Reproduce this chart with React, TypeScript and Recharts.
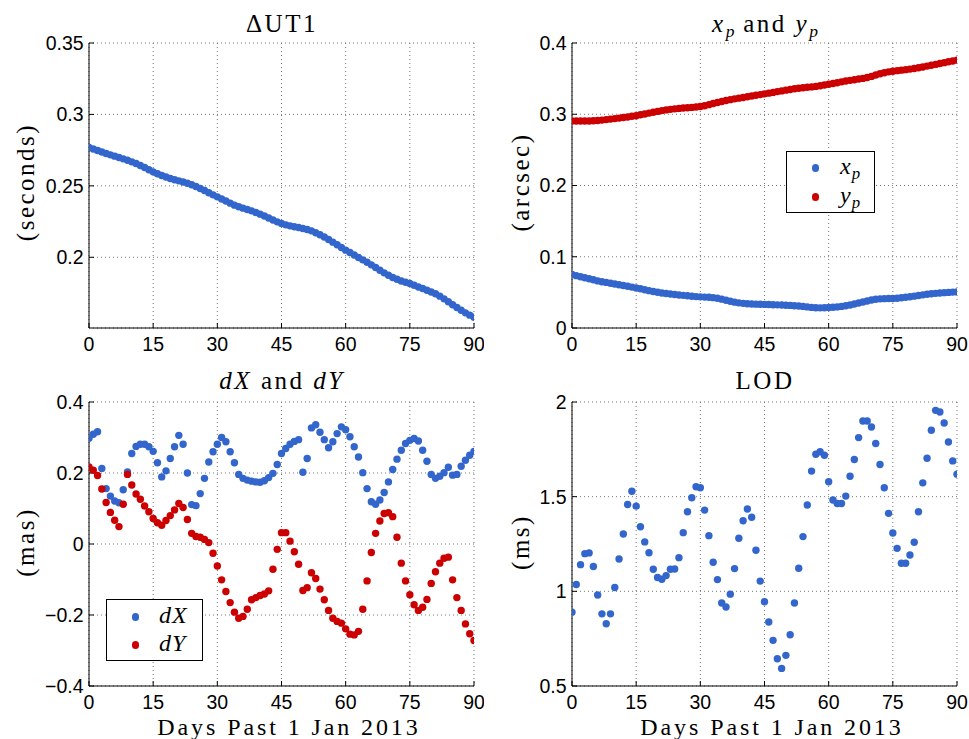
import React from 'react';
import { ScatterChart, Scatter, XAxis, YAxis, CartesianGrid } from 'recharts';

const BLUE = '#3366cc';
const RED = '#cc0000';
const SERIF = '"Liberation Serif", "Times New Roman", serif';
const SANS = '"Liberation Sans", Arial, sans-serif';

// day index 0..90 (x axis)
const days = Array.from({ length: 91 }, (_, i) => i);
const dayTicks = [0, 15, 30, 45, 60, 75, 90];

// Delta UT1 (seconds)
const ut1 = [
  0.2769, 0.2758, 0.2747, 0.2737, 0.2727, 0.2717, 0.2708, 0.2699, 0.2689, 0.2679,
  0.2668, 0.2657, 0.2643, 0.2628, 0.2613, 0.2598, 0.2585, 0.2573, 0.2562, 0.2552,
  0.2543, 0.2535, 0.2527, 0.2518, 0.2508, 0.2496, 0.2482, 0.2467, 0.2452, 0.2437,
  0.2423, 0.2408, 0.2394, 0.2379, 0.2365, 0.2354, 0.2344, 0.2335, 0.2325, 0.2314,
  0.2302, 0.2289, 0.2275, 0.2261, 0.2248, 0.2236, 0.2227, 0.222, 0.2214, 0.2208,
  0.2202, 0.2195, 0.2185, 0.2172, 0.2158, 0.2142, 0.2124, 0.2106, 0.2088, 0.2069,
  0.205, 0.2033, 0.2016, 0.1999, 0.1982, 0.1965, 0.1947, 0.1928, 0.1909, 0.1891,
  0.1874, 0.1859, 0.1846, 0.1834, 0.1825, 0.1816, 0.1804, 0.1792, 0.1781, 0.1769,
  0.1757, 0.1745, 0.1728, 0.1709, 0.1689, 0.1668, 0.1648, 0.1629, 0.1611, 0.1595,
  0.158,
];

// polar motion (arcsec)
const xp = [
  0.0752, 0.0735, 0.072, 0.0706, 0.0692, 0.0677, 0.0661, 0.065, 0.064, 0.0629,
  0.0618, 0.0607, 0.0596, 0.0585, 0.0574, 0.0563, 0.055, 0.0537, 0.0524, 0.0512,
  0.0501, 0.0492, 0.0484, 0.0477, 0.047, 0.0464, 0.0458, 0.0452, 0.0446, 0.0441,
  0.0437, 0.0434, 0.0431, 0.0426, 0.0418, 0.0405, 0.039, 0.0376, 0.0363, 0.0353,
  0.0346, 0.0341, 0.0337, 0.0335, 0.0333, 0.0331, 0.0329, 0.0327, 0.0325, 0.0323,
  0.032, 0.0317, 0.0313, 0.0309, 0.0303, 0.0296, 0.0289, 0.0284, 0.0283, 0.0284,
  0.0287, 0.0291, 0.0296, 0.0303, 0.0312, 0.0323, 0.0336, 0.035, 0.0364, 0.0378,
  0.0392, 0.0403, 0.0409, 0.0412, 0.0413, 0.0414, 0.0418, 0.0424, 0.0431, 0.0439,
  0.0447, 0.0456, 0.0465, 0.0473, 0.048, 0.0486, 0.0491, 0.0496, 0.05, 0.0504,
  0.0507,
];
const yp = [
  0.2906, 0.2905, 0.2905, 0.2905, 0.2906, 0.2908, 0.2912, 0.2918, 0.2925, 0.2932,
  0.2939, 0.2946, 0.2954, 0.2962, 0.2971, 0.298, 0.2992, 0.3004, 0.3016, 0.3028,
  0.304, 0.3051, 0.3061, 0.3069, 0.3076, 0.3082, 0.3087, 0.3091, 0.3096, 0.3101,
  0.3108, 0.312, 0.3135, 0.315, 0.3165, 0.318, 0.3193, 0.3205, 0.3216, 0.3226,
  0.3236, 0.3246, 0.3256, 0.3266, 0.3276, 0.3286, 0.3296, 0.3307, 0.3318, 0.3328,
  0.3338, 0.3348, 0.3357, 0.3365, 0.3372, 0.3378, 0.3384, 0.3391, 0.34, 0.341,
  0.3421, 0.3432, 0.3443, 0.3455, 0.3466, 0.3476, 0.3485, 0.3494, 0.3503, 0.3515,
  0.3531, 0.355, 0.3568, 0.3583, 0.3595, 0.3604, 0.3612, 0.3619, 0.3626, 0.3634,
  0.3643, 0.3653, 0.3664, 0.3676, 0.3688, 0.37, 0.3712, 0.3724, 0.3736, 0.3748,
  0.376,
];

// celestial pole offsets (mas)
const dX = [
  0.298, 0.309, 0.316, 0.213, 0.156, 0.135, 0.121, 0.116, 0.153, 0.203,
  0.255, 0.275, 0.281, 0.281, 0.274, 0.261, 0.229, 0.189, 0.206, 0.241,
  0.274, 0.306, 0.281, 0.2, 0.111, 0.108, 0.142, 0.185, 0.231, 0.26,
  0.281, 0.3, 0.288, 0.26, 0.229, 0.196, 0.185, 0.18, 0.177, 0.175,
  0.174, 0.178, 0.187, 0.199, 0.224, 0.255, 0.269, 0.281, 0.289, 0.294,
  0.202, 0.241, 0.327, 0.336, 0.315, 0.294, 0.271, 0.288, 0.311, 0.33,
  0.322, 0.302, 0.274, 0.245, 0.201, 0.156, 0.119, 0.112, 0.124, 0.145,
  0.175, 0.21, 0.239, 0.264, 0.283, 0.292, 0.297, 0.29, 0.264, 0.233,
  0.196, 0.185, 0.191, 0.201, 0.216, 0.194, 0.196, 0.219, 0.236, 0.25,
  0.261,
];
const dY = [
  0.217, 0.208, 0.193, 0.155, 0.117, 0.089, 0.067, 0.049, 0.112, 0.196,
  0.166, 0.141, 0.126, 0.107, 0.091, 0.072, 0.06, 0.053, 0.066, 0.08,
  0.096, 0.114, 0.103, 0.069, 0.03, 0.021, 0.019, 0.013, 0.004, -0.026,
  -0.062, -0.101, -0.134, -0.165, -0.192, -0.209, -0.204, -0.184, -0.157, -0.151,
  -0.145, -0.141, -0.132, -0.071, -0.015, 0.032, 0.032, 0.008, -0.022, -0.057,
  -0.131, -0.123, -0.081, -0.097, -0.127, -0.157, -0.187, -0.209, -0.218, -0.223,
  -0.239, -0.254, -0.256, -0.246, -0.184, -0.104, -0.024, 0.03, 0.065, 0.086,
  0.088, 0.077, 0.019, -0.054, -0.104, -0.143, -0.171, -0.187, -0.178, -0.156,
  -0.111, -0.078, -0.054, -0.04, -0.037, -0.101, -0.151, -0.187, -0.225, -0.253,
  -0.272,
];

// length of day (ms)
const lod = [
  0.89, 1.036, 1.141, 1.199, 1.203, 1.131, 0.981, 0.881, 0.829, 0.881,
  1.02, 1.171, 1.303, 1.459, 1.529, 1.45, 1.341, 1.261, 1.204, 1.117,
  1.073, 1.064, 1.083, 1.117, 1.118, 1.178, 1.31, 1.42, 1.494, 1.552,
  1.547, 1.429, 1.294, 1.154, 1.062, 0.938, 0.917, 0.985, 1.12, 1.28,
  1.373, 1.435, 1.391, 1.217, 1.054, 0.945, 0.838, 0.741, 0.644, 0.593,
  0.662, 0.771, 0.938, 1.122, 1.289, 1.456, 1.635, 1.724, 1.737, 1.719,
  1.579, 1.482, 1.464, 1.464, 1.503, 1.608, 1.696, 1.812, 1.9, 1.9,
  1.868, 1.781, 1.67, 1.547, 1.412, 1.308, 1.227, 1.148, 1.148, 1.192,
  1.259, 1.42, 1.573, 1.703, 1.851, 1.956, 1.947, 1.889, 1.789, 1.689,
  1.619,
];

const toPoints = (vals: number[]) => days.map((d, i) => ({ day: d, v: vals[i] }));
const fmt = (v: number) => String(v).replace('-', '\u2212');

const Y_W = 60;
const X_H = 30;

type Box = { x: number; y: number; w: number; h: number };
type Rect = { x0: number; y0: number; x1: number; y1: number };
type Series = { vals: number[]; color: string };

const dot = (color: string) => (p: any) => <circle cx={p.cx} cy={p.cy} r={3.7} fill={color} />;

const Panel = ({ box, plot, yDomain, yTicks, series }: { box: Box; plot: Rect; yDomain: [number, number]; yTicks: number[]; series: Series[] }) => {
  const margin = {
    left: plot.x0 - box.x - Y_W,
    right: box.x + box.w - plot.x1,
    top: plot.y0 - box.y,
    bottom: box.y + box.h - plot.y1 - X_H,
  };
  const line = { stroke: '#000', strokeWidth: 1 };
  return (
    <div style={{ position: 'absolute', left: box.x, top: box.y }}>
      <ScatterChart width={box.w} height={box.h} margin={margin}>
        <CartesianGrid stroke="#777" strokeDasharray="1 3" />
        <XAxis type="number" dataKey="day" domain={[0, 90]} ticks={dayTicks} interval={0} allowDataOverflow
          height={X_H} tickSize={-5} tickMargin={14.6} axisLine={line} tickLine={line}
          tick={{ fill: '#000', fontSize: 19.5, fontFamily: SANS }} />
        <XAxis xAxisId="top" orientation="top" type="number" domain={[0, 90]} ticks={dayTicks} interval={0}
          allowDataOverflow height={0} tickSize={-5} tick={false} axisLine={line} tickLine={line} />
        <YAxis type="number" dataKey="v" domain={yDomain} ticks={yTicks} interval={0} allowDataOverflow
          width={Y_W} tickSize={-5} tickMargin={10.4} tickFormatter={fmt} axisLine={line} tickLine={line}
          tick={{ fill: '#000', fontSize: 19.5, fontFamily: SANS }} />
        <YAxis yAxisId="right" orientation="right" type="number" domain={yDomain} ticks={yTicks} interval={0}
          allowDataOverflow width={0} tickSize={-5} tick={false} axisLine={line} tickLine={line} />
        {series.map((s, i) => (
          <Scatter key={i} data={toPoints(s.vals)} fill={s.color} shape={dot(s.color)} isAnimationActive={false} />
        ))}
      </ScatterChart>
    </div>
  );
};

const serifText: React.CSSProperties = {
  position: 'absolute',
  fontFamily: SERIF,
  fontSize: 25,
  lineHeight: '25px',
  letterSpacing: 2.5,
  whiteSpace: 'nowrap',
  color: '#000',
};

const Sub = ({ c }: { c: string }) => (
  <span style={{ fontStyle: 'italic', fontSize: '0.7em', position: 'relative', top: '0.3em', letterSpacing: 0 }}>{c}</span>
);
const I = ({ children }: { children: React.ReactNode }) => <span style={{ fontStyle: 'italic' }}>{children}</span>;

const Title = ({ cx, top, lh = 25, fs = 25, ls = 2.5, children }: { cx: number; top: number; lh?: number; fs?: number; ls?: number; children: React.ReactNode }) => (
  <div style={{ ...serifText, fontSize: fs, letterSpacing: ls, lineHeight: `${lh}px`, left: cx, top, transform: 'translateX(-50%)' }}>{children}</div>
);
const YLabel = ({ cx, cy, text }: { cx: number; cy: number; text: string }) => (
  <div style={{ ...serifText, left: cx, top: cy, transform: 'translate(-50%, -50%) rotate(-90deg)' }}>{text}</div>
);

const LegendBox = ({ x, y, w, h, rows }: { x: number; y: number; w: number; h: number; rows: { color: string; dy: number; tx: number; label: React.ReactNode }[] }) => (
  <div style={{ position: 'absolute', left: x, top: y, width: w, height: h, border: '1.3px solid #000', background: '#fff', boxSizing: 'border-box' }}>
    {rows.map((r, i) => (
      <React.Fragment key={i}>
        <div style={{ position: 'absolute', left: 25, top: r.dy - 3.7, width: 7.4, height: 7.4, borderRadius: '50%', background: r.color }} />
        <div style={{ ...serifText, fontSize: 24, letterSpacing: 1, left: r.tx, top: r.dy - 14 }}>{r.label}</div>
      </React.Fragment>
    ))}
  </div>
);

export default function App() {
  const L: Box = { x: 0, y: 0, w: 484, h: 370 };
  return (
    <div style={{ position: 'absolute', left: 0, top: 0, width: 969, height: 739, background: '#fff', overflow: 'hidden' }}>
      <Panel box={L} plot={{ x0: 89, y0: 43, x1: 474, y1: 328 }} yDomain={[0.1505, 0.35]}
        yTicks={[0.2, 0.25, 0.3, 0.35]} series={[{ vals: ut1, color: BLUE }]} />
      <Panel box={{ x: 484, y: 0, w: 485, h: 370 }} plot={{ x0: 572, y0: 43, x1: 957, y1: 328 }} yDomain={[0, 0.4]}
        yTicks={[0, 0.1, 0.2, 0.3, 0.4]} series={[{ vals: xp, color: BLUE }, { vals: yp, color: RED }]} />
      <Panel box={{ x: 0, y: 370, w: 484, h: 369 }} plot={{ x0: 89, y0: 402, x1: 474, y1: 686 }} yDomain={[-0.4, 0.4]}
        yTicks={[-0.4, -0.2, 0, 0.2, 0.4]} series={[{ vals: dX, color: BLUE }, { vals: dY, color: RED }]} />
      <Panel box={{ x: 484, y: 370, w: 485, h: 369 }} plot={{ x0: 572, y0: 402, x1: 957, y1: 686 }} yDomain={[0.5, 2]}
        yTicks={[0.5, 1, 1.5, 2]} series={[{ vals: lod, color: BLUE }]} />

      <Title cx={282} top={11}>{'\u0394UT1'}</Title>
      <Title cx={765} top={11}><I>x</I><Sub c="p" /> and <I>y</I><Sub c="p" /></Title>
      <Title cx={282} top={371} lh={20}><I>dX</I> and <I>dY</I></Title>
      <Title cx={765} top={371} lh={20}>LOD</Title>

      <YLabel cx={25} cy={182} text="(seconds)" />
      <YLabel cx={520} cy={182} text="(arcsec)" />
      <YLabel cx={25} cy={542} text="(mas)" />
      <YLabel cx={520} cy={542} text="(ms)" />

      <Title cx={289} top={718} lh={18} fs={24} ls={2.9}>Days Past 1 Jan 2013</Title>
      <Title cx={772} top={718} lh={18} fs={24} ls={2.9}>Days Past 1 Jan 2013</Title>

      <LegendBox x={786} y={151} w={89} h={62} rows={[
        { color: BLUE, dy: 16, tx: 53, label: <><I>x</I><Sub c="p" /></> },
        { color: RED, dy: 45, tx: 53, label: <><I>y</I><Sub c="p" /></> },
      ]} />
      <LegendBox x={106} y={599} w={97} h={62} rows={[
        { color: BLUE, dy: 17, tx: 52, label: <I>dX</I> },
        { color: RED, dy: 45, tx: 52, label: <I>dY</I> },
      ]} />
    </div>
  );
}
